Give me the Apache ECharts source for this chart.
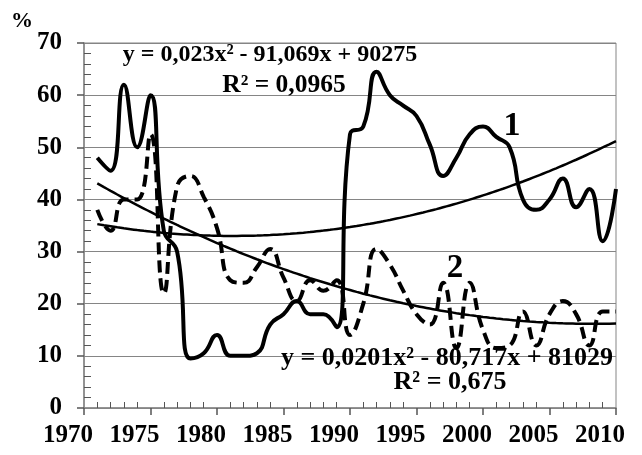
<!DOCTYPE html>
<html>
<head>
<meta charset="utf-8">
<script src="https://cdn.jsdelivr.net/npm/echarts@6/dist/echarts.min.js"></script>
<style>
html,body{margin:0;padding:0;background:#fff;}
#chart{width:642px;height:455px;}
</style>
</head>
<body>
<div id="chart"></div>
<script>
// ---- data ----
const years = [1971,1972,1973,1974,1975,1976,1977,1978,1979,1980,
               1981,1982,1983,1984,1985,1986,1987,1988,1989,1990,
               1991,1992,1993,1994,1995,1996,1997,1998,1999,2000,
               2001,2002,2003,2004,2005,2006,2007,2008,2009,2010];
const series1 = [48,45.5,62,50,60,34,30,9.5,10.5,14,
                 10,10,10.5,16,18,20.5,18,18,15.5,52.5,
                 54,64.5,60,58,56,50.5,44.5,48,52.5,54,
                 52,50,40,38,40,44,38.5,42,32,42];
const series2 = [38,34,40,40,52.5,22,42.5,44.5,40.5,34.5,
                 24.5,24,27,30.5,25,20.5,24.5,22.5,24.5,14,
                 20,30.5,27.5,22.5,18,16,24,11.5,24,15,
                 11.5,12,18.5,12,18,20.5,18,12,18.5,18.5];
const xTicks = [1970,1975,1980,1985,1990,1995,2000,2005,2010];
const yTicks = [0,10,20,30,40,50,60,70];
const eq1 = 'y = 0,023x² - 91,069x + 90275';
const r1 = 'R² = 0,0965';
const eq2 = 'y = 0,0201x² - 80,717x + 81029';
const r2 = 'R² = 0,675';

// ---- least-squares quadratic trend (computed from the data) ----
function quadFit(xs, ys) {
  const x0 = 1990;
  let S = [0,0,0,0,0], T = [0,0,0];
  xs.forEach((xv, i) => {
    const t = xv - x0, y = ys[i];
    for (let k = 0; k < 5; k++) S[k] += Math.pow(t, k);
    for (let k = 0; k < 3; k++) T[k] += y * Math.pow(t, k);
  });
  const M = [[S[4],S[3],S[2],T[2]],[S[3],S[2],S[1],T[1]],[S[2],S[1],S[0],T[0]]];
  for (let i = 0; i < 3; i++) {
    for (let j = i + 1; j < 3; j++) {
      const f = M[j][i] / M[i][i];
      for (let k = i; k < 4; k++) M[j][k] -= f * M[i][k];
    }
  }
  const r = [0,0,0];
  for (let i = 2; i >= 0; i--) {
    let s = M[i][3];
    for (let k = i + 1; k < 3; k++) s -= M[i][k] * r[k];
    r[i] = s / M[i][i];
  }
  return x => { const t = x - x0; return r[0]*t*t + r[1]*t + r[2]; };
}
function trendPoints(fn) {
  const pts = [];
  for (let x = years[0]; x <= years[years.length-1] + 1e-9; x += 0.5) pts.push([x, fn(x)]);
  return pts;
}
const trend1 = trendPoints(quadFit(years, series1));
const trend2 = trendPoints(quadFit(years, series2));

const FONT = '"Liberation Serif","Times New Roman",serif';
const grey = '#858585';
const chart = echarts.init(document.getElementById('chart'), null, {renderer: 'canvas'});
const txt = (text, x, y, size, align) => ({
  type: 'text', x: x, y: y, z: 100,
  style: {text: text, fill: '#000', font: 'bold ' + size + 'px ' + FONT,
          textAlign: align || 'center', textVerticalAlign: 'middle'}
});
chart.setOption({
  animation: false,
  backgroundColor: '#fff',
  grid: {left: 84, top: 43, width: 532, height: 365, show: true,
         borderColor: grey, borderWidth: 1, backgroundColor: 'transparent'},
  xAxis: {
    type: 'value', min: xTicks[0], max: xTicks[xTicks.length-1], interval: 5,
    axisLine: {lineStyle: {color: grey, width: 1.5}},
    axisTick: {show: true, length: 7, lineStyle: {color: '#555', width: 1.5}},
    minorTick: {show: true, splitNumber: 5, length: -6, lineStyle: {color: '#555', width: 1}},
    splitLine: {show: false},
    axisLabel: {margin: 15, color: '#000', fontFamily: FONT, fontWeight: 'bold', fontSize: 25,
                padding: [0, 32, 0, 0], formatter: v => String(v)}
  },
  yAxis: {
    type: 'value', min: yTicks[0], max: yTicks[yTicks.length-1], interval: 10,
    axisLine: {show: true, lineStyle: {color: grey, width: 1.5}},
    axisTick: {show: true, length: 7, lineStyle: {color: '#555', width: 1.5}},
    minorTick: {show: true, splitNumber: 5, length: -7, lineStyle: {color: '#555', width: 1}},
    splitLine: {show: true, lineStyle: {color: grey, width: 1}},
    axisLabel: {margin: 22, color: '#000', fontFamily: FONT, fontWeight: 'bold', fontSize: 25}
  },
  series: [
    {type: 'line', name: '1', data: years.map((y, i) => [y, series1[i]]),
     smooth: 0.5, showSymbol: false, lineStyle: {color: '#000', width: 4}, z: 3},
    {type: 'line', name: '2', data: years.map((y, i) => [y, series2[i]]),
     smooth: 0.5, showSymbol: false, lineStyle: {color: '#000', width: 4, type: [12, 6]}, z: 3},
    {type: 'line', name: 'trend1', data: trend1, smooth: true, showSymbol: false,
     lineStyle: {color: '#000', width: 2.5}, z: 4},
    {type: 'line', name: 'trend2', data: trend2, smooth: true, showSymbol: false,
     lineStyle: {color: '#000', width: 2.5}, z: 4}
  ],
  graphic: [
    txt('%', 22, 21, 22),
    txt(eq1, 270, 55, 24),
    txt(r1, 284, 85, 25.5),
    txt('1', 512, 126, 34),
    txt('2', 455, 268, 33),
    txt(eq2, 447, 358, 26),
    txt(r2, 450, 382, 26)
  ]
});
</script>
</body>
</html>
